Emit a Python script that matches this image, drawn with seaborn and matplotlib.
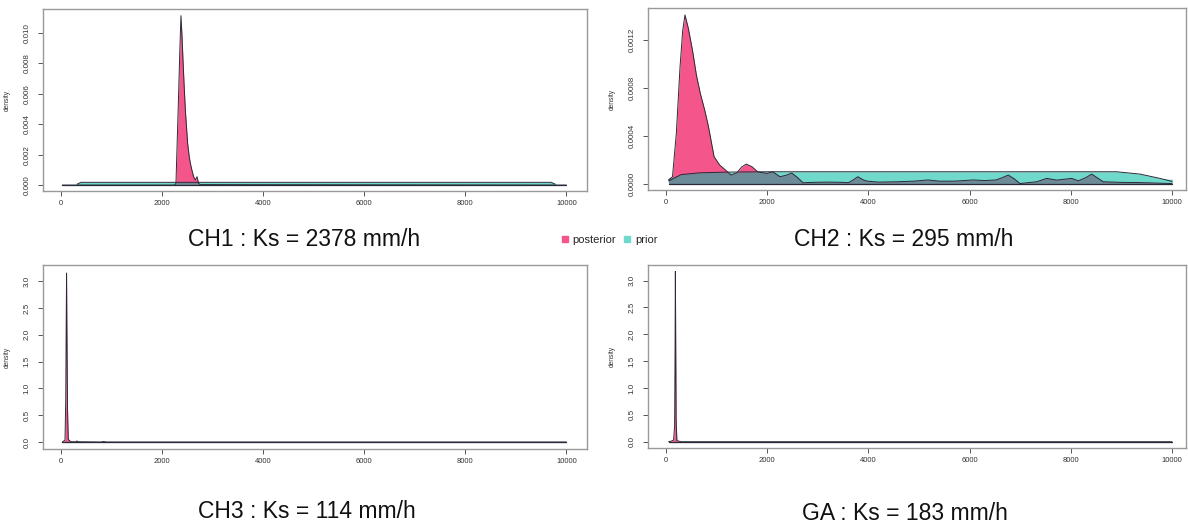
import numpy as np
import matplotlib
matplotlib.use("Agg")
import matplotlib.pyplot as plt
from matplotlib.lines import Line2D
import seaborn as sns

sns.set_style("white")
plt.rcParams['font.family'] = ['Liberation Sans', 'DejaVu Sans']

# ---------------- data ----------------
titles = ["CH1 : Ks = 2378 mm/h", "CH2 : Ks = 295 mm/h",
          "CH3 : Ks = 114 mm/h", "GA : Ks = 183 mm/h"]

ch1_post_x = [30, 2250, 2279, 2305, 2332, 2355, 2378, 2400, 2418, 2440, 2465, 2490,
              2510, 2540, 2564, 2600, 2629, 2662, 2695, 2728, 2760, 3000, 5200, 10000]
ch1_post_d = [0, 0, 0.0001, 0.003, 0.00603, 0.0088, 0.01114, 0.0097, 0.00822, 0.0066,
              0.00493, 0.0037, 0.00274, 0.0019, 0.00143, 0.0009, 0.00055, 0.00033,
              0.00055, 0.0001, 0.00003, 0.00003, 0.00002, 0]
ch1_prior_x = [326, 400, 9700, 9773]
ch1_prior_d = [0.00012, 0.00018, 0.00018, 0.00012]

ch2_post_x = [50, 128, 204, 277, 330, 375, 440, 525, 601, 680, 765, 840, 950, 1063,
              1176, 1285, 1400, 1500, 1587, 1700, 1810, 1996, 2110, 2253, 2380, 2484,
              2600, 2708, 2900, 3200, 3500, 3605, 3700, 3792, 3900, 3978, 4200, 4577,
              4900, 5174, 5400, 5698, 6071, 6300, 6520, 6650, 6765, 6880, 6996, 7326,
              7524, 7721, 8018, 8148, 8300, 8412, 8642, 8972, 9368, 10000]
ch2_post_d = [0.00003, 0.000057, 0.00042, 0.000975, 0.00128, 0.00141, 0.00130, 0.00111,
              0.000906, 0.00075, 0.000614, 0.000474, 0.000224, 0.000154, 0.000113,
              0.000071, 0.00009, 0.00014, 0.000163, 0.00014, 0.0000985, 0.000085,
              0.0000985, 0.000057, 0.00007, 0.000088, 0.00005, 0.0000067, 0.00001,
              0.000012, 0.00001, 0.000007, 0.00003, 0.000057, 0.00003, 0.00002,
              0.000012, 0.000015, 0.00002, 0.00003, 0.00002, 0.00002, 0.00003, 0.000025,
              0.00003, 0.00005, 0.000071, 0.00004, 0.0, 0.000015, 0.000043, 0.000029,
              0.000043, 0.000023, 0.00005, 0.000079, 0.000015, 0.00001, 0.000008, 0.0]
ch2_prior_x = [50, 300, 672, 1265, 2000, 5000, 8907, 9368, 9763, 10000]
ch2_prior_d = [0.000043, 0.000075, 0.00009, 0.000096, 0.0000985, 0.0000985, 0.0000985,
               0.000079, 0.000043, 0.000035]

ch3_post_x = [30, 60, 85, 100, 110, 116, 122, 135, 150, 200, 300, 320, 350, 800, 850, 900, 10000]
ch3_post_d = [0, 0.02, 0.03, 0.8, 2.4, 3.15, 2.2, 0.6, 0.05, 0.005, 0.005, 0.02, 0.005,
              0.0, 0.01, 0.0, 0]
ch3_prior_x = [50, 10000]
ch3_prior_d = [0.0001, 0.0001]

ga_post_x = [50, 100, 150, 170, 178, 185, 192, 200, 215, 300, 10000]
ga_post_d = [0, 0.01, 0.03, 0.3, 1.5, 3.17, 1.8, 0.4, 0.02, 0, 0]
ga_prior_x = [50, 10000]
ga_prior_d = [0.0001, 0.0001]

xticks = [0, 2000, 4000, 6000, 8000, 10000]
yticks = [[0, 0.002, 0.004, 0.006, 0.008, 0.010],
          [0, 0.0004, 0.0008, 0.0012],
          [0, 0.5, 1.0, 1.5, 2.0, 2.5, 3.0],
          [0, 0.5, 1.0, 1.5, 2.0, 2.5, 3.0]]
ytick_fmt = ["{:.3f}", "{:.4f}", "{:.1f}", "{:.1f}"]
legend_labels = ["posterior", "prior"]

# ---------------- style ----------------
PINK = "#F4568C"
TEAL = "#6FD9CB"
SLATE = "#6B8B98"
EDGE = "#2a2a38"

W, H = 1188, 527
fig = plt.figure(figsize=(W / 100, H / 100), dpi=100)

def box(l, r, t, b):
    return [l / W, 1 - b / H, (r - l) / W, (b - t) / H]

axes_specs = [
    dict(rect=box(43, 587, 9, 191), xlim=(-350, 10407), ylim=(-0.00039, 0.01158)),
    dict(rect=box(648, 1186, 8, 190), xlim=(-356, 10277), ylim=(-0.000054, 0.001468)),
    dict(rect=box(43, 587, 265, 449), xlim=(-350, 10407), ylim=(-0.13, 3.30)),
    dict(rect=box(648, 1186, 265, 448), xlim=(-356, 10277), ylim=(-0.117, 3.29)),
]
series = [(ch1_post_x, ch1_post_d, ch1_prior_x, ch1_prior_d),
          (ch2_post_x, ch2_post_d, ch2_prior_x, ch2_prior_d),
          (ch3_post_x, ch3_post_d, ch3_prior_x, ch3_prior_d),
          (ga_post_x, ga_post_d, ga_prior_x, ga_prior_d)]
title_pos = [(304, 239), (904, 239), (307, 512), (905, 514)]

for i, spec in enumerate(axes_specs):
    ax = fig.add_axes(spec["rect"])
    px, pd_, qx, qd = [np.asarray(a, float) for a in series[i]]
    # prior
    ax.fill_between(qx, 0, qd, color=TEAL, lw=0, zorder=1)
    # posterior
    ax.fill_between(px, 0, pd_, color=PINK, lw=0, zorder=2)
    # overlap
    grid = np.union1d(px, qx)
    grid = grid[(grid >= max(px.min(), qx.min())) & (grid <= min(px.max(), qx.max()))]
    ov = np.minimum(np.interp(grid, px, pd_), np.interp(grid, qx, qd))
    ax.fill_between(grid, 0, ov, color=SLATE, lw=0, zorder=3)
    # outlines
    qx_c = np.concatenate([[qx[0]], qx, [qx[-1]]])
    qd_c = np.concatenate([[0], qd, [0]])
    sns.lineplot(x=qx_c, y=qd_c, ax=ax, color=EDGE, lw=0.7, sort=False, zorder=4)
    ax.plot([qx[0], qx[-1]], [0, 0], color=EDGE, lw=0.7, zorder=4)
    sns.lineplot(x=px, y=pd_, ax=ax, color=EDGE, lw=0.7, sort=False, zorder=5)
    ax.plot([px[0], px[-1]], [0, 0], color=EDGE, lw=0.9, zorder=5)

    ax.set_xlim(*spec["xlim"])
    ax.set_ylim(*spec["ylim"])
    ax.set_xticks(xticks)
    ax.set_xticklabels([str(v) for v in xticks], fontsize=5.5, color="#333333")
    ax.set_yticks(yticks[i])
    ax.set_yticklabels([ytick_fmt[i].format(v) for v in yticks[i]], fontsize=5.8,
                       color="#333333", rotation=90, va="center")
    ax.tick_params(axis="both", direction="out", length=3.8, width=0.7,
                   color="#555555", left=True, bottom=True)
    ax.tick_params(axis="x", pad=2.5)
    ax.tick_params(axis="y", pad=5)
    for s in ax.spines.values():
        s.set_color("#999999")
        s.set_linewidth(1.0)
    ax.set_xlabel("")
    ax.set_ylabel("density", fontsize=4.8, color="#333333")
    wpx = spec["rect"][2] * W
    ax.yaxis.set_label_coords(-32 / wpx, 0.5)
    tx, ty = title_pos[i]
    fig.text(tx / W, 1 - ty / H, titles[i], fontsize=16.5, ha="center", va="center",
             color="#111111")

handles = [Line2D([], [], marker="s", ls="", color=PINK, markersize=4.5),
           Line2D([], [], marker="s", ls="", color=TEAL, markersize=4.5)]
fig.legend(handles, legend_labels, loc="center", bbox_to_anchor=(609 / W, 1 - 240 / H),
           ncol=2, frameon=False, fontsize=8, handletextpad=0.3, columnspacing=0.6,
           handlelength=0.8)

fig.savefig("out.png", dpi=100)
